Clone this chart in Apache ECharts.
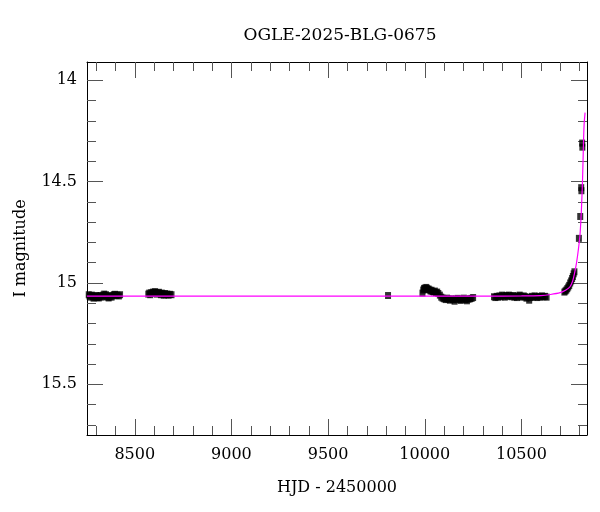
<!DOCTYPE html>
<html>
<head>
<meta charset="utf-8">
<script src="https://cdn.jsdelivr.net/npm/echarts@6/dist/echarts.min.js"></script>
<style>html,body{margin:0;padding:0;background:#fff}#c{width:600px;height:512px}</style>
</head>
<body>
<div id="c"></div>
<script>
const title = 'OGLE-2025-BLG-0675';
const xName = 'HJD - 2450000';
const yName = 'I magnitude';
const xMin = 8253, xMax = 10839;
const yMin = 13.91, yMax = 15.75;
const xMajorTicks = [8500, 9000, 9500, 10000, 10500];
const xMinorTicks = [8300, 8400, 8600, 8700, 8800, 8900, 9100, 9200, 9300, 9400, 9600, 9700, 9800, 9900, 10100, 10200, 10300, 10400, 10600, 10700, 10800];
const yMajorTicks = [14, 14.5, 15, 15.5];
const yMinorTicks = [14.1, 14.2, 14.3, 14.4, 14.6, 14.7, 14.8, 14.9, 15.1, 15.2, 15.3, 15.4, 15.6, 15.7];

const obsHJD = [
 8262,8266,8270,8274,8278,8283,8287,8291,8296,8300,8305,8309,8314,8318,8323,8328,8332,8337,8342,8346,8351,8356,8360,8365,8370,8375,8380,8386,8392,8398,8404,8410,8418,8424,
 8570,8575,8580,8585,8590,8595,8600,8605,8610,8615,8620,8625,8630,8635,8640,8645,8650,8656,8662,8668,8675,8682,8690,
 9810,
 9988,9992,9996,10000,10004,10008,10012,10016,10020,10025,10030,10035,10040,10046,10052,10058,10064,10070,10078,10085,10092,10100,10108,10115,10122,10130,10138,10146,10154,10162,10170,10178,10186,10194,10202,10210,10218,10226,10234,10242,10250,
 10358,10365,10372,10379,10386,10393,10400,10407,10414,10421,10428,10435,10442,10449,10456,10463,10470,10477,10484,10491,10498,10505,10512,10519,10526,10533,10540,10547,10554,10561,10568,10575,10582,10590,10598,10606,10614,10622,10630,
 10722,10727,10732,10737,10742,10747,10752,10757,10762,10766,10770,10774,10797,10804,10809,10810,10814,10815
];
const obsMag = [
 15.058,15.065,15.062,15.07,15.06,15.068,15.075,15.066,15.07,15.062,15.072,15.065,15.074,15.068,15.062,15.07,15.066,15.06,15.055,15.062,15.058,15.066,15.07,15.074,15.068,15.062,15.07,15.064,15.058,15.056,15.062,15.06,15.064,15.058,
 15.055,15.05,15.058,15.048,15.052,15.045,15.05,15.043,15.048,15.055,15.05,15.046,15.052,15.058,15.05,15.055,15.06,15.052,15.058,15.055,15.06,15.056,15.058,
 15.062,
 15.05,15.035,15.028,15.025,15.03,15.022,15.028,15.032,15.03,15.035,15.04,15.036,15.042,15.045,15.04,15.048,15.045,15.052,15.06,15.07,15.075,15.078,15.082,15.075,15.08,15.085,15.078,15.082,15.09,15.08,15.076,15.082,15.086,15.08,15.075,15.082,15.088,15.08,15.078,15.076,15.072,
 15.068,15.072,15.066,15.07,15.064,15.068,15.06,15.064,15.07,15.062,15.066,15.06,15.064,15.068,15.062,15.07,15.066,15.072,15.064,15.06,15.066,15.07,15.064,15.068,15.075,15.07,15.085,15.072,15.066,15.07,15.064,15.068,15.072,15.066,15.07,15.064,15.068,15.066,15.07,
 15.045,15.04,15.035,15.028,15.02,15.012,15.0,14.99,14.978,14.968,14.955,14.945,14.78,14.672,14.53,14.545,14.31,14.33
];
const modelHJD = [8253, 10300, 10500, 10600, 10650, 10700, 10730, 10750, 10765, 10775, 10785, 10795, 10803, 10810, 10816, 10820, 10824, 10829];
const modelMag = [15.065, 15.065, 15.064, 15.062, 15.057, 15.048, 15.035, 15.02, 14.99, 14.95, 14.90, 14.83, 14.76, 14.64, 14.49, 14.34, 14.22, 14.16];

const FONT = 'DejaVu Serif';
const majLen = 16, minLen = 9, tickColor = '#555';

function xAx(pos, ticks, len, labels, line) {
  return {
    type: 'value', position: pos, min: xMin, max: xMax,
    axisLine: {show: line, onZero: false, lineStyle: {color: '#000', width: 1}},
    splitLine: {show: false},
    axisTick: {show: true, inside: true, length: len, customValues: ticks, lineStyle: {color: tickColor, width: 1}},
    axisLabel: labels ? {show: true, customValues: ticks, formatter: v => String(v), color: '#000', fontFamily: FONT, fontSize: 16, margin: 12} : {show: false},
    name: labels ? xName : '', nameLocation: 'middle', nameGap: 45,
    nameTextStyle: {color: '#000', fontFamily: FONT, fontSize: 16}
  };
}
function yAx(pos, ticks, len, labels, line) {
  return {
    type: 'value', position: pos, min: yMin, max: yMax, inverse: true,
    axisLine: {show: line, onZero: false, lineStyle: {color: '#000', width: 1}},
    splitLine: {show: false},
    axisTick: {show: true, inside: true, length: len, customValues: ticks, lineStyle: {color: tickColor, width: 1}},
    axisLabel: labels ? {show: true, customValues: ticks, formatter: v => String(v), color: '#000', fontFamily: FONT, fontSize: 16, margin: 10} : {show: false},
    name: labels ? yName : '', nameLocation: 'middle', nameGap: 58, nameRotate: 90,
    nameTextStyle: {color: '#000', fontFamily: FONT, fontSize: 16}
  };
}

const chart = echarts.init(document.getElementById('c'), null, {renderer: 'canvas'});
chart.setOption({
  animation: false,
  backgroundColor: '#fff',
  title: {text: title, left: 335, textAlign: 'center', top: 22, textStyle: {fontFamily: FONT, fontSize: 17, fontWeight: 'normal', color: '#000'}},
  grid: {left: 87, right: 13, top: 62, bottom: 77, containLabel: false},
  xAxis: [
    xAx('bottom', xMajorTicks, majLen, true, true),
    xAx('bottom', xMinorTicks, minLen, false, false),
    xAx('top', xMajorTicks, majLen, false, true),
    xAx('top', xMinorTicks, minLen, false, false)
  ],
  yAxis: [
    yAx('left', yMajorTicks, majLen, true, true),
    yAx('left', yMinorTicks, minLen, false, false),
    yAx('right', yMajorTicks, majLen, false, true),
    yAx('right', yMinorTicks, minLen, false, false)
  ],
  series: [
    {
      type: 'scatter', xAxisIndex: 0, yAxisIndex: 0,
      symbol: 'rect', symbolSize: [6, 7],
      itemStyle: {color: '#000'},
      data: obsHJD.map((h, i) => [h, obsMag[i]]),
      z: 3
    },
    {
      type: 'line', xAxisIndex: 0, yAxisIndex: 0,
      showSymbol: false, smooth: 0.3,
      lineStyle: {color: '#ff00ff', width: 1.2},
      data: modelHJD.map((h, i) => [h, modelMag[i]]),
      z: 4
    }
  ]
});
</script>
</body>
</html>
